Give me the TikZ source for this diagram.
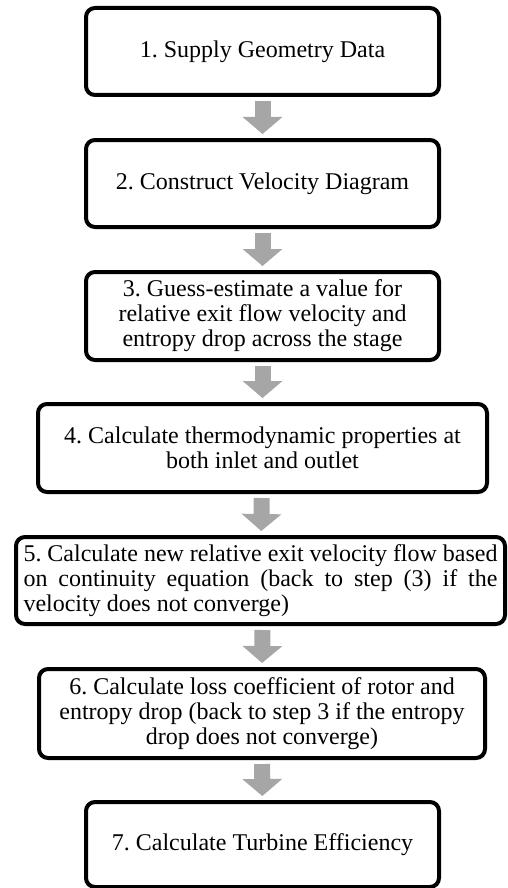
\documentclass[tikz,border=0pt]{standalone}
\usepackage{fontspec}
\setmainfont{Liberation Serif}
\usetikzlibrary{arrows.meta}
\definecolor{arrowgray}{RGB}{166,166,166}
\frenchspacing
\begin{document}
\begin{tikzpicture}[x=1pt,y=-1pt,
  stepbox/.style={draw=black, line width=4pt, rounded corners=9pt, fill=white, inner sep=0pt,
    font=\fontsize{24}{25}\selectfont\frenchspacing, align=center},
  flow/.style={draw=arrowgray, line width=16pt, -{Triangle[length=17pt,width=39pt]},
    shorten <=4pt, shorten >=4pt}]
\useasboundingbox (0,0) rectangle (507,888);
\clip (0,0) rectangle (507,888);
\node[stepbox, minimum width=353pt, minimum height=87pt] (s1) at (262.5,51.5) {1. Supply Geometry Data};
\node[stepbox, minimum width=353pt, minimum height=87pt] (s2) at (262.5,183.5) {2. Construct Velocity Diagram};
\node[stepbox, minimum width=353pt, minimum height=88pt] (s3) at (262.5,316) {3. Guess-estimate a value for\\relative exit flow velocity and\\entropy drop across the stage};
\node[stepbox, minimum width=449pt, minimum height=88pt] (s4) at (262.5,448) {4. Calculate thermodynamic properties at\\both inlet and outlet};
\node[stepbox, minimum width=489pt, minimum height=87pt, align=left] (s5) at (260.5,580.5) {\makebox[474pt][s]{5. Calculate new relative exit velocity flow based}\\\makebox[474pt][s]{on continuity equation (back to step (3) if the}\\\makebox[474pt][l]{velocity does not converge)}};
\node[stepbox, minimum width=446pt, minimum height=89pt] (s6) at (262,713.5) {6. Calculate loss coefficient of rotor and\\entropy drop (back to step 3 if the entropy\\drop does not converge)};
\node[stepbox, minimum width=353pt, minimum height=85pt] (s7) at (262.5,844.5) {7. Calculate Turbine Efficiency};
\draw[flow] (s1) -- (s2);
\draw[flow] (s2) -- (s3);
\draw[flow] (s3) -- (s4);
\draw[flow] (s4) -- (s5);
\draw[flow] (s5.south -| s4.south) -- (s6.north);
\draw[flow] (s6) -- (s7);
\end{tikzpicture}
\end{document}
